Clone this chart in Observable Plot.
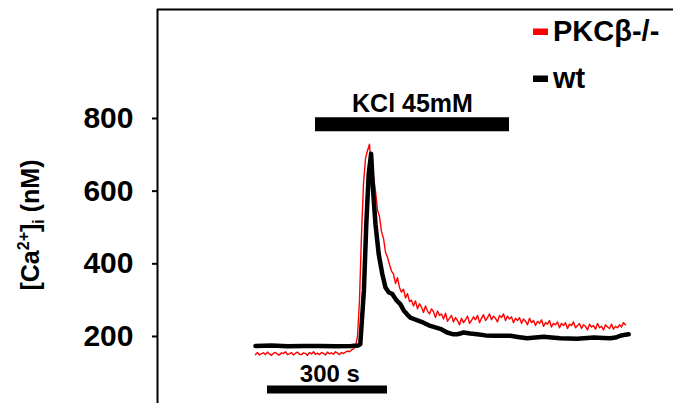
<!DOCTYPE html>
<html>
<head>
<meta charset="utf-8">
<script src="https://cdn.jsdelivr.net/npm/d3@7"></script>
<script src="https://cdn.jsdelivr.net/npm/@observablehq/plot@0.6"></script>
<style>
  html, body { margin: 0; padding: 0; background: #fff; }
  #chart { width: 673px; height: 403px; }
</style>
</head>
<body>
<div id="chart"></div>
<script>
// ---- data ----
const seriesNames = ["PKCβ-/-", "wt"];
const seriesColors = ["#ff0000", "#000000"];
const yTicks = [200, 400, 600, 800];

// PKCβ-/- trace, sampled every 5 s from t = 0
const redStep = 5;
const redValues = [
  150,156,149,153,155,150,157,152,148,154,156,151,149,155,153,158,150,152,156,149,
  154,157,151,150,155,153,148,156,152,158,151,154,150,156,153,149,157,152,155,151,
  158,154,150,156,153,157,160,158,163,166,172,
  200,300,480,620,690,712,729,640,640,
  600,548,530,488,470,432,418,398,380,372,346,362,335,322,330,306,318,296,300,284,
  298,276,290,281,266,284,270,262,276,268,252,270,258,262,248,264,242,250,258,240,
  252,244,232,250,238,246,256,236,244,254,246,258,238,250,260,244,252,262,246,256,
  250,240,258,252,262,244,256,248,254,238,250,244,252,236,248,242,232,250,238,244,
  230,242,236,246,228,238,234,244,226,236,232,240,224,236,230,238,222,234,230,240,
  224,230,236,222,232,228,218,234,226,230,220,236,224,228,218,232,226,222,234,220,
  228,224,232,226,238,232
];

// wt trace
const blackTimes = [0,40,80,120,160,200,240,257,262,271,277,283,289,294,300,308,317,325,333,342,
  352,362,371,379,387,396,410,420,437,462,479,495,504,512,520,537,554,575,596,637,
  660,679,700,721,740,762,804,846,870,887,900,912,925,933];
const blackValues = [174,175,173,174,174,173,174,175,179,326,510,647,703,601,509,427,372,335,322,317,
  300,289,271,261,252,248,242,238,229,221,211,206,206,208,211,208,206,203,202,202,
  198,195,197,199,197,195,194,197,196,195,197,202,205,206];

// annotations (time in s, level in nM)
const kclLabel = "KCl 45mM";
const kclStart = 150, kclEnd = 635, kclLevel = 784;
const scaleLabel = "300 s";
const scaleStart = 30, scaleEnd = 330, scaleLevel = 54;

const xDomain = [-245, 1045];
const yDomain = [15.5, 1100];

// ---- build tables ----
const red = redValues.map((v, i) => ({t: i * redStep, v}));
const black = blackTimes.map((t, i) => ({t, v: blackValues[i]}));

const font = "'Liberation Sans', Arial, Helvetica, sans-serif";

const plot = Plot.plot({
  width: 673,
  height: 403,
  marginLeft: 157,
  marginRight: 0,
  marginTop: 9,
  marginBottom: 0,
  style: {fontFamily: font, fontWeight: "bold", fontSize: "30px", color: "#000", background: "#fff", overflow: "visible"},
  x: {domain: xDomain, axis: null},
  y: {domain: yDomain, axis: null},
  marks: [
    Plot.ruleX([xDomain[0]], {stroke: "#000", strokeWidth: 2}),
    Plot.ruleY([yDomain[1]], {stroke: "#000", strokeWidth: 2}),
    Plot.axisY({ticks: yTicks, tickSize: 5, tickPadding: 19, strokeWidth: 2, fontSize: 30, fontWeight: "bold", label: null, tickFormat: d => String(d)}),
    Plot.line(red, {x: "t", y: "v", stroke: seriesColors[0], strokeWidth: 1.4}),
    Plot.line(black, {x: "t", y: "v", stroke: seriesColors[1], strokeWidth: 4.5, strokeLinejoin: "round", strokeLinecap: "round"}),
    Plot.ruleY([kclLevel], {x1: kclStart, x2: kclEnd, stroke: "#000", strokeWidth: 14}),
    Plot.text([kclLabel], {x: (kclStart + kclEnd) / 2, y: kclLevel, text: d => d, dy: -12, lineAnchor: "bottom", fontSize: 25, fontWeight: "bold", fill: "#000"}),
    Plot.ruleY([scaleLevel], {x1: scaleStart, x2: scaleEnd, stroke: "#000", strokeWidth: 8}),
    Plot.text([scaleLabel], {x: (scaleStart + scaleEnd) / 2 + 6, y: scaleLevel, text: d => d, dy: -7.5, lineAnchor: "bottom", fontSize: 24, fontWeight: "bold", fill: "#000"})
  ]
});

const svg = d3.select(plot);

// tick label size
svg.selectAll('g[aria-label="y-axis tick label"]').attr("font-size", 30).attr("font-weight", "bold");
svg.selectAll('g[aria-label="y-axis tick label"] text').attr("font-size", 30).style("font-size", "30px");

// y-axis label with superscript and subscript
const yl = svg.append("text")
  .attr("transform", "translate(39,225) rotate(-90)")
  .attr("text-anchor", "middle")
  .attr("font-family", font)
  .attr("font-weight", "bold")
  .attr("font-size", 25)
  .attr("fill", "#000");
yl.append("tspan").text("[Ca");
yl.append("tspan").attr("font-size", 16).attr("dy", -10).text("2+");
yl.append("tspan").attr("dy", 10).text("]");
yl.append("tspan").attr("font-size", 16).attr("dy", 5).text("i");
yl.append("tspan").attr("dy", -5).text(" (nM)");

// legend
const legend = svg.append("g")
  .attr("font-family", font).attr("font-weight", "bold").attr("font-size", 29)
  .attr("text-anchor", "start");
const legendRows = [{y: 41}, {y: 88}];
seriesNames.forEach((name, i) => {
  const baseY = legendRows[i].y;
  legend.append("rect").attr("x", 533).attr("y", baseY - 12.5).attr("width", 15).attr("height", 6.5).attr("fill", seriesColors[i]);
  legend.append("text").attr("x", 553).attr("y", baseY).attr("text-anchor", "start").attr("fill", "#000").text(name);
});

document.getElementById("chart").appendChild(plot);
</script>
</body>
</html>
